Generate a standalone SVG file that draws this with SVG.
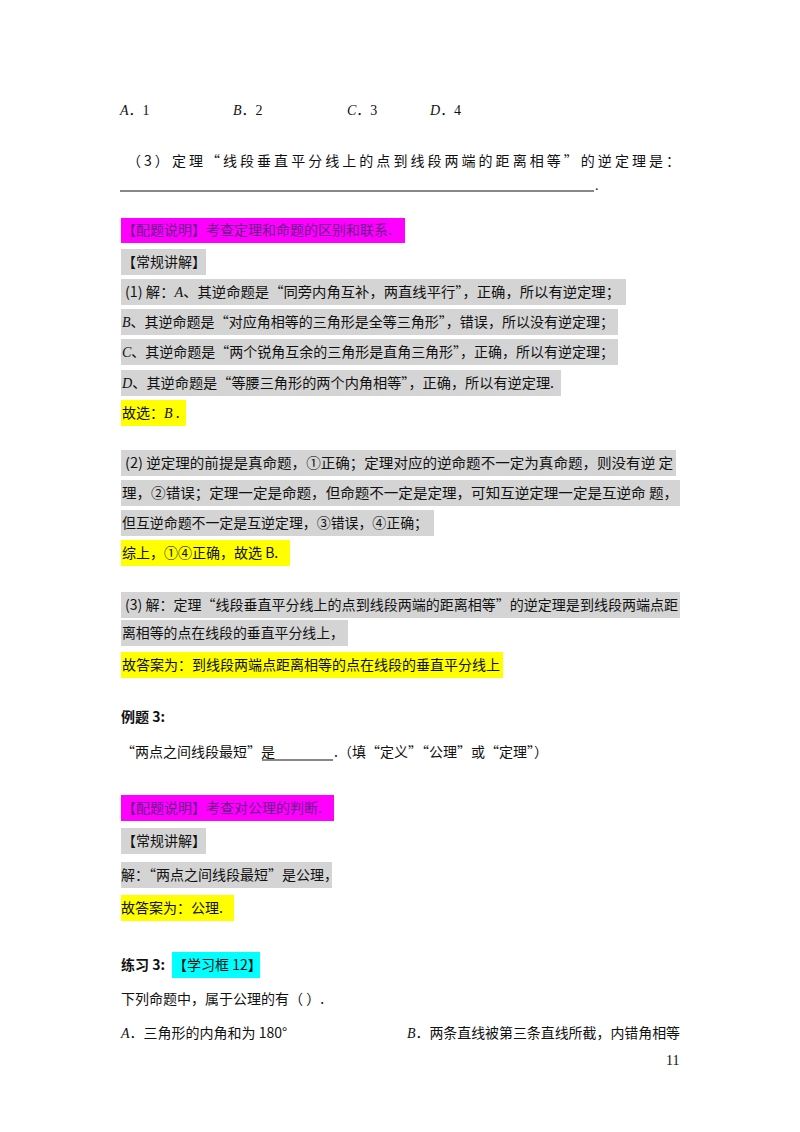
<svg xmlns="http://www.w3.org/2000/svg" width="800" height="1132" viewBox="0 0 800 1132">
<style>
text{font-family:"Liberation Serif","Noto Sans CJK SC",serif;font-size:14px;fill:#111}
.c{font-family:"Noto Sans CJK SC","Liberation Sans",sans-serif;font-size:14px}
.i{font-family:"Liberation Serif",serif;font-style:italic}
.g{fill:#d4d4d4}.y{fill:#ffff00}.m{fill:#ff00ff}.cy{fill:#00ffff}
.b{font-weight:bold}
</style>
<rect width="800" height="1132" fill="#fff"/>
<text x="120" y="115"><tspan class="i">A</tspan>．1</text>
<text x="233" y="115"><tspan class="i">B</tspan>．2</text>
<text x="347" y="115"><tspan class="i">C</tspan>．3</text>
<text x="430" y="115"><tspan class="i">D</tspan>．4</text>
<text class="c" x="127" y="166" textLength="553" lengthAdjust="spacing">（3）定理“线段垂直平分线上的点到线段两端的距离相等”的逆定理是：</text>
<line x1="120" y1="191" x2="594" y2="191" stroke="#111" stroke-width="1"/>
<text x="595" y="190">.</text>

<rect class="m" x="121" y="218" width="284" height="25"/>
<text class="c" x="122" y="235" fill="#7a0080" style="fill:#6a1b8a">【配题说明】考查定理和命题的区别和联系.</text>
<rect class="g" x="121" y="249" width="85" height="26"/>
<text class="c" x="122" y="267">【常规讲解】</text>
<rect class="g" x="121" y="279" width="505" height="26"/>
<text class="c" x="125" y="297" textLength="495" lengthAdjust="spacingAndGlyphs">(1) 解：<tspan class="i">A</tspan>、其逆命题是“同旁内角互补，两直线平行”，正确，所以有逆定理；</text>
<rect class="g" x="121" y="309" width="497" height="26"/>
<text class="c" x="122" y="327" textLength="492" lengthAdjust="spacingAndGlyphs"><tspan class="i">B</tspan>、其逆命题是“对应角相等的三角形是全等三角形”，错误，所以没有逆定理；</text>
<rect class="g" x="121" y="339" width="497" height="26"/>
<text class="c" x="122" y="357" textLength="492" lengthAdjust="spacingAndGlyphs"><tspan class="i">C</tspan>、其逆命题是“两个锐角互余的三角形是直角三角形”，正确，所以有逆定理；</text>
<rect class="g" x="121" y="370" width="440" height="26"/>
<text class="c" x="122" y="388" textLength="432" lengthAdjust="spacingAndGlyphs"><tspan class="i">D</tspan>、其逆命题是“等腰三角形的两个内角相等”，正确，所以有逆定理.</text>
<rect class="y" x="121" y="400" width="65" height="26"/>
<text class="c" x="122" y="418">故选：<tspan class="i">B</tspan> .</text>

<rect class="g" x="121" y="450" width="555" height="26"/>
<text class="c" x="125" y="468" textLength="548" lengthAdjust="spacingAndGlyphs">(2) 逆定理的前提是真命题，①正确；定理对应的逆命题不一定为真命题，则没有逆  定</text>
<rect class="g" x="121" y="480" width="559" height="26"/>
<text class="c" x="122" y="498" textLength="556" lengthAdjust="spacingAndGlyphs">理，②错误；定理一定是命题，但命题不一定是定理，可知互逆定理一定是互逆命      题，</text>
<rect class="g" x="121" y="510" width="313" height="26"/>
<text class="c" x="122" y="528" textLength="306" lengthAdjust="spacingAndGlyphs">但互逆命题不一定是互逆定理，③错误，④正确；</text>
<rect class="y" x="121" y="540" width="169" height="26"/>
<text class="c" x="122" y="558">综上，①④正确，故选 B.</text>

<rect class="g" x="121" y="592" width="559" height="26"/>
<text class="c" x="125" y="610" textLength="553" lengthAdjust="spacingAndGlyphs">(3) 解：定理“线段垂直平分线上的点到线段两端的距离相等”的逆定理是到线段两端点距</text>
<rect class="g" x="121" y="620" width="227" height="26"/>
<text class="c" x="122" y="638" textLength="222" lengthAdjust="spacingAndGlyphs">离相等的点在线段的垂直平分线上，</text>
<rect class="y" x="121" y="652" width="382" height="26"/>
<text class="c" x="122" y="670" textLength="378" lengthAdjust="spacingAndGlyphs">故答案为：到线段两端点距离相等的点在线段的垂直平分线上</text>

<text class="c b" x="121" y="722">例题 3:</text>
<text class="c" x="121" y="757">“两点之间线段最短”是</text>
<line x1="262" y1="760" x2="333" y2="760" stroke="#111"/>
<text class="c" x="334" y="757">.（填“定义”“公理”或“定理”）</text>

<rect class="m" x="121" y="795" width="213" height="26"/>
<text class="c" x="122" y="813" style="fill:#6a1b8a">【配题说明】考查对公理的判断.</text>
<rect class="g" x="121" y="828" width="85" height="26"/>
<text class="c" x="122" y="846">【常规讲解】</text>
<rect class="g" x="121" y="862" width="211" height="26"/>
<text class="c" x="121" y="880">解：“两点之间线段最短”是公理，</text>
<rect class="y" x="121" y="895" width="113" height="26"/>
<text class="c" x="121" y="913">故答案为：公理.</text>

<text class="c b" x="121" y="970">练习 3:</text>
<rect class="cy" x="172" y="952" width="88" height="26"/>
<text class="c" x="173" y="970">【学习框 12】</text>
<text class="c" x="121" y="1004">下列命题中，属于公理的有（          ）.</text>
<text class="c" x="121" y="1038"><tspan class="i">A</tspan>．三角形的内角和为 180°</text>
<text class="c" x="407" y="1038" textLength="273" lengthAdjust="spacingAndGlyphs"><tspan class="i">B</tspan>．两条直线被第三条直线所截，内错角相等</text>
<text x="666" y="1065">11</text>
</svg>
